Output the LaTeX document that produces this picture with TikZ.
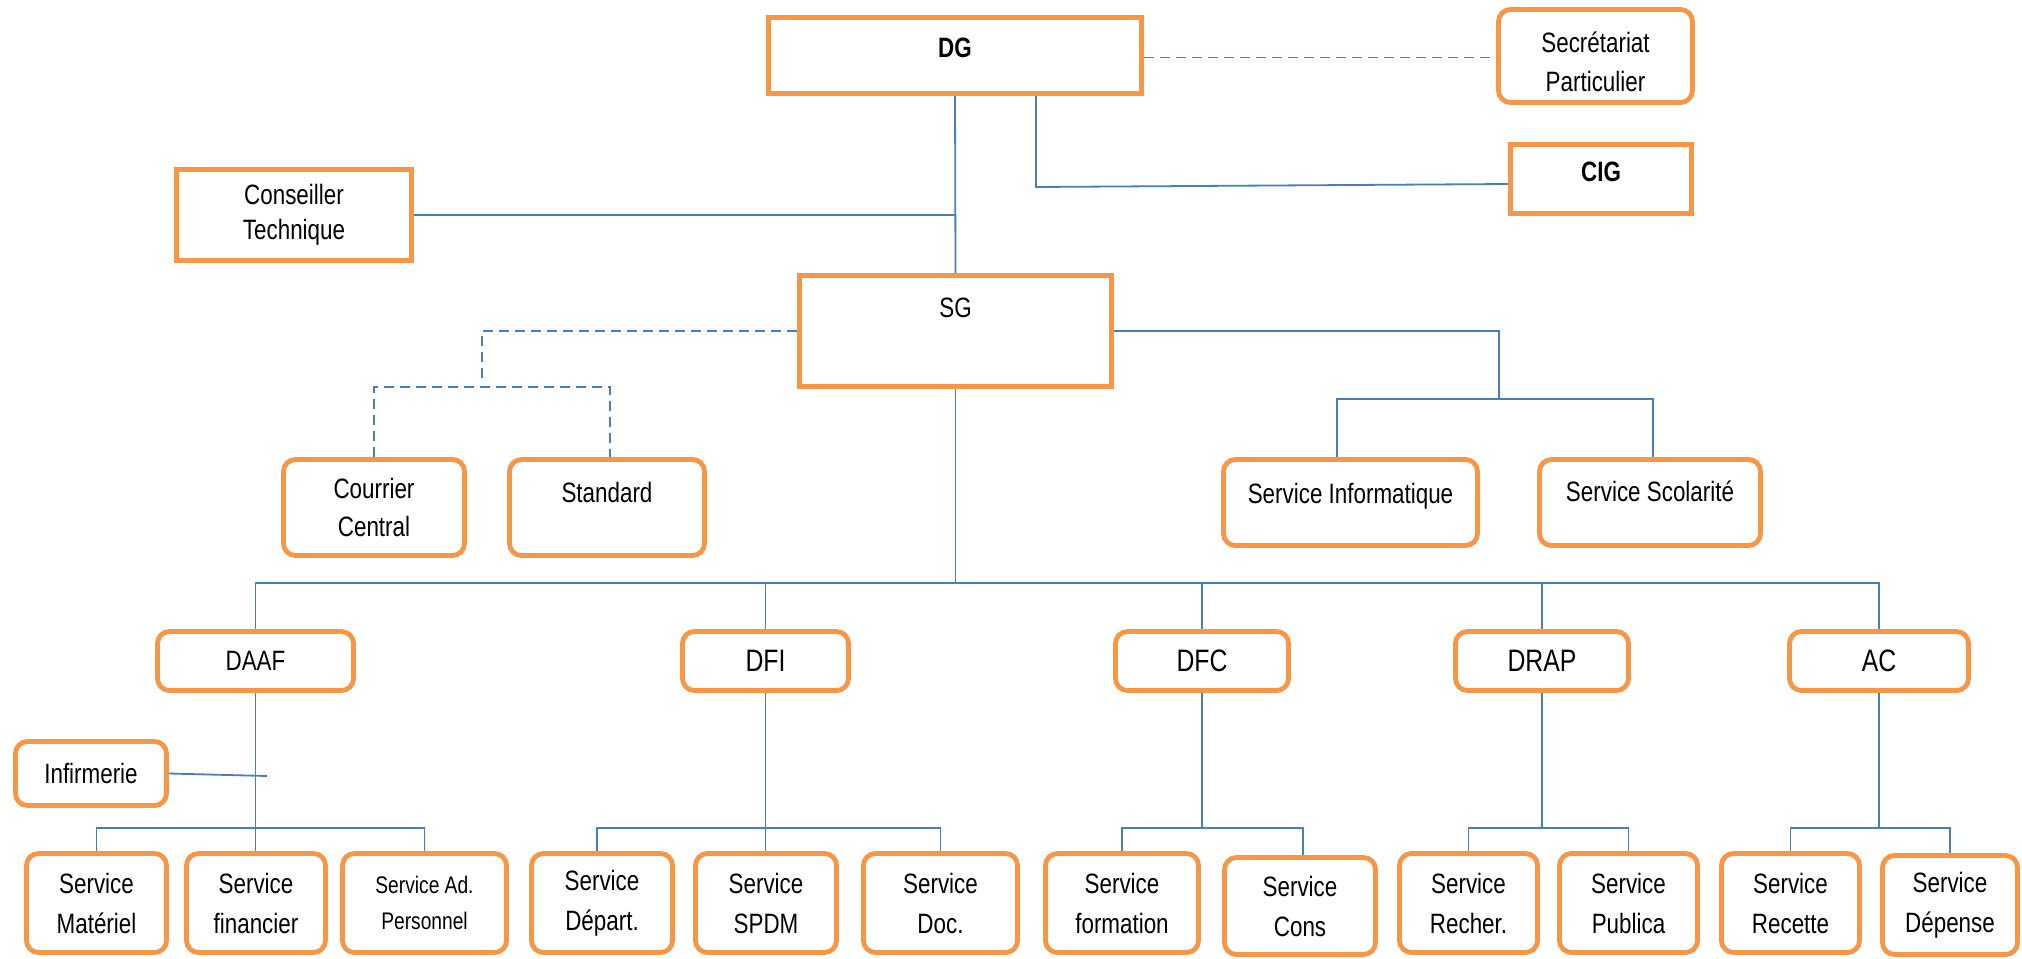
\documentclass[tikz,border=0pt]{standalone}
\usepackage{fontspec}
\setmainfont{Liberation Sans}[FakeStretch=0.8]
\usetikzlibrary{backgrounds}
\definecolor{boxorange}{HTML}{F79646}
\definecolor{lineblue}{HTML}{4A7EBB}
\newcommand\fsnorm{\fontsize{14pt}{20pt}\selectfont}
\newcommand\fsbig{\fontsize{15.5pt}{20pt}\selectfont}
\newcommand\fssmall{\fontsize{12pt}{18pt}\selectfont}
\begin{document}
\begin{tikzpicture}[x=0.5pt,y=-0.5pt,
  sq/.style={draw=boxorange, line width=2.4pt, fill=white, inner sep=0pt, align=center, font=\fsnorm},
  rnd/.style={sq, rounded corners=6pt},
  svc/.style={rnd, minimum height=49.5pt},
  dir/.style={rnd, minimum height=29.5pt, font=\fsbig},
  conn/.style={draw=lineblue, line width=0.9pt},
  dconn/.style={conn, dash pattern=on 5pt off 3pt}]
\useasboundingbox (0,0) rectangle (2022,958);

% top level
\node[sq, minimum width=186.5pt, minimum height=38pt, text height=10pt, text depth=8pt] (dg) at (955,55.5) {\textbf{DG}};
\node[rnd, minimum width=97pt, minimum height=46.5pt] (sec) at (1595.5,56) {\rule{0pt}{16pt}Secrétariat\\[-0.5pt]Particulier};
\node[sq, minimum width=90.5pt, minimum height=34.5pt, text height=10pt, text depth=8pt] (cig) at (1601,179) {\textbf{CIG}};
\node[sq, minimum width=117.5pt, minimum height=45.5pt] (ct) at (294,215) {Conseiller\\[-2.5pt]Technique};
\node[sq, minimum width=156pt, minimum height=55.5pt, text height=10pt, text depth=24pt] (sg) at (955.5,331) {SG};

% second level
\node[rnd, minimum width=90.5pt, minimum height=48pt] (cc) at (374,507.5) {Courrier\\[-1pt]Central};
\node[rnd, minimum width=97.5pt, minimum height=48pt, text height=10pt, text depth=15pt] (std) at (607,507.5) {Standard};
\node[rnd, minimum width=127pt, minimum height=43pt, text height=10pt, text depth=9pt] (sinf) at (1350.5,502.5) {Service Informatique};
\node[rnd, minimum width=110.5pt, minimum height=43pt, text height=10pt, text depth=11pt] (ssco) at (1650,502.5) {Service Scolarité};

% directions
\node[rnd, minimum width=98pt, minimum height=29.5pt] (daaf) at (255.5,661) {DAAF};
\node[dir, minimum width=83pt] (dfi) at (765.5,661) {DFI};
\node[dir, minimum width=86.5pt] (dfc) at (1202,661) {DFC};
\node[dir, minimum width=86.5pt] (drap) at (1542,661) {DRAP};
\node[dir, minimum width=89.5pt] (ac) at (1879,661) {AC};
\node[rnd, minimum width=75.5pt, minimum height=32pt] (inf) at (91,773.5) {Infirmerie};

% services
\node[svc, minimum width=70pt] (smat) at (96.5,903) {Service\\Matériel};
\node[svc, minimum width=69.5pt] (sfin) at (256,903) {Service\\financier};
\node[svc, minimum width=82pt, font=\fssmall] (sad) at (424.5,903) {Service Ad.\\Personnel};
\node[svc, minimum width=70.5pt] (sdep) at (602,903) {Service\\Départ.};
\node[svc, minimum width=70.5pt] (sspdm) at (766,903) {Service\\SPDM};
\node[svc, minimum width=77pt] (sdoc) at (940.5,903) {Service\\Doc.};
\node[svc, minimum width=76.5pt] (sform) at (1122,903) {Service\\formation};
\node[svc, minimum width=75.5pt, minimum height=48.5pt] (scons) at (1300,906) {Service\\Cons};
\node[svc, minimum width=69pt] (srech) at (1468.5,903) {Service\\Recher.};
\node[svc, minimum width=69pt] (spub) at (1628.5,903) {Service\\Publica};
\node[svc, minimum width=69pt] (srec) at (1790.5,903) {Service\\Recette};
\node[svc, minimum width=67.5pt] (sdepe) at (1950,905) {Service\\Dépense};

\coordinate (cigc) at (1036,187);
\coordinate (d1) at (482,331);
\coordinate (d2) at (482,379);
\coordinate (d3) at (374,387);
\coordinate (d4) at (610,387);
\coordinate (r1) at (1499,331);
\coordinate (r2) at (1499,400);
\coordinate (r3) at (1337,399);
\coordinate (r4) at (1653,399);
\coordinate (bus) at (955,583);
\coordinate (sb) at (597,828);
\coordinate (infend) at (267,776);

\begin{scope}[on background layer]
\draw[conn] (dg.south) -- (sg.north);
\draw[conn] (ct.east) -- (ct.east -| dg.south);
\draw[conn] (dg.south -| cigc) -- (cigc) -- ([yshift=-2.5pt]cig.west);
\draw[dconn] ([yshift=-1pt]dg.east) -- ([yshift=-1pt]dg.east -| sec.west);
\draw[dconn] (sg.west) -- (d1) -- (d2);
\draw[dconn] (cc.north) -- (cc.north |- d3) -- (d4) -- (d4 |- std.north);
\draw[conn] (sg.east) -- (r1) -- (r2);
\draw[conn] (r3 |- sinf.north) -- (r3) -- (r4) -- (r4 |- ssco.north);
\draw[conn] (sg.south) -- (sg.south |- bus);
\draw[conn] (daaf.north) -- (daaf.north |- bus) -- (bus -| ac.north) -- (ac.north);
\draw[conn] (dfi.north) -- (dfi.north |- bus);
\draw[conn] (dfc.north) -- (dfc.north |- bus);
\draw[conn] (drap.north) -- (drap.north |- bus);
% DAAF
\draw[conn] (daaf.south) -- (daaf.south |- sfin.north);
\draw[conn] (inf.east) -- (infend);
\draw[conn] (smat.north) -- (smat.north |- sb) -- (sad.north |- sb) -- (sad.north);
% DFI
\draw[conn] (dfi.south) -- (dfi.south |- sspdm.north);
\draw[conn] (sb |- sdep.north) -- (sb) -- (sdoc.north |- sb) -- (sdoc.north);
% DFC
\draw[conn] (dfc.south) -- (dfc.south |- sb);
\draw[conn] (sform.north) -- (sform.north |- sb) -- ([xshift=1.5pt]scons.north |- sb) -- ([xshift=1.5pt]scons.north);
% DRAP
\draw[conn] (drap.south) -- (drap.south |- sb);
\draw[conn] (srech.north) -- (srech.north |- sb) -- (spub.north |- sb) -- (spub.north);
% AC
\draw[conn] (ac.south) -- (ac.south |- sb);
\draw[conn] (srec.north) -- (srec.north |- sb) -- (sdepe.north |- sb) -- (sdepe.north);
\end{scope}
\end{tikzpicture}
\end{document}
